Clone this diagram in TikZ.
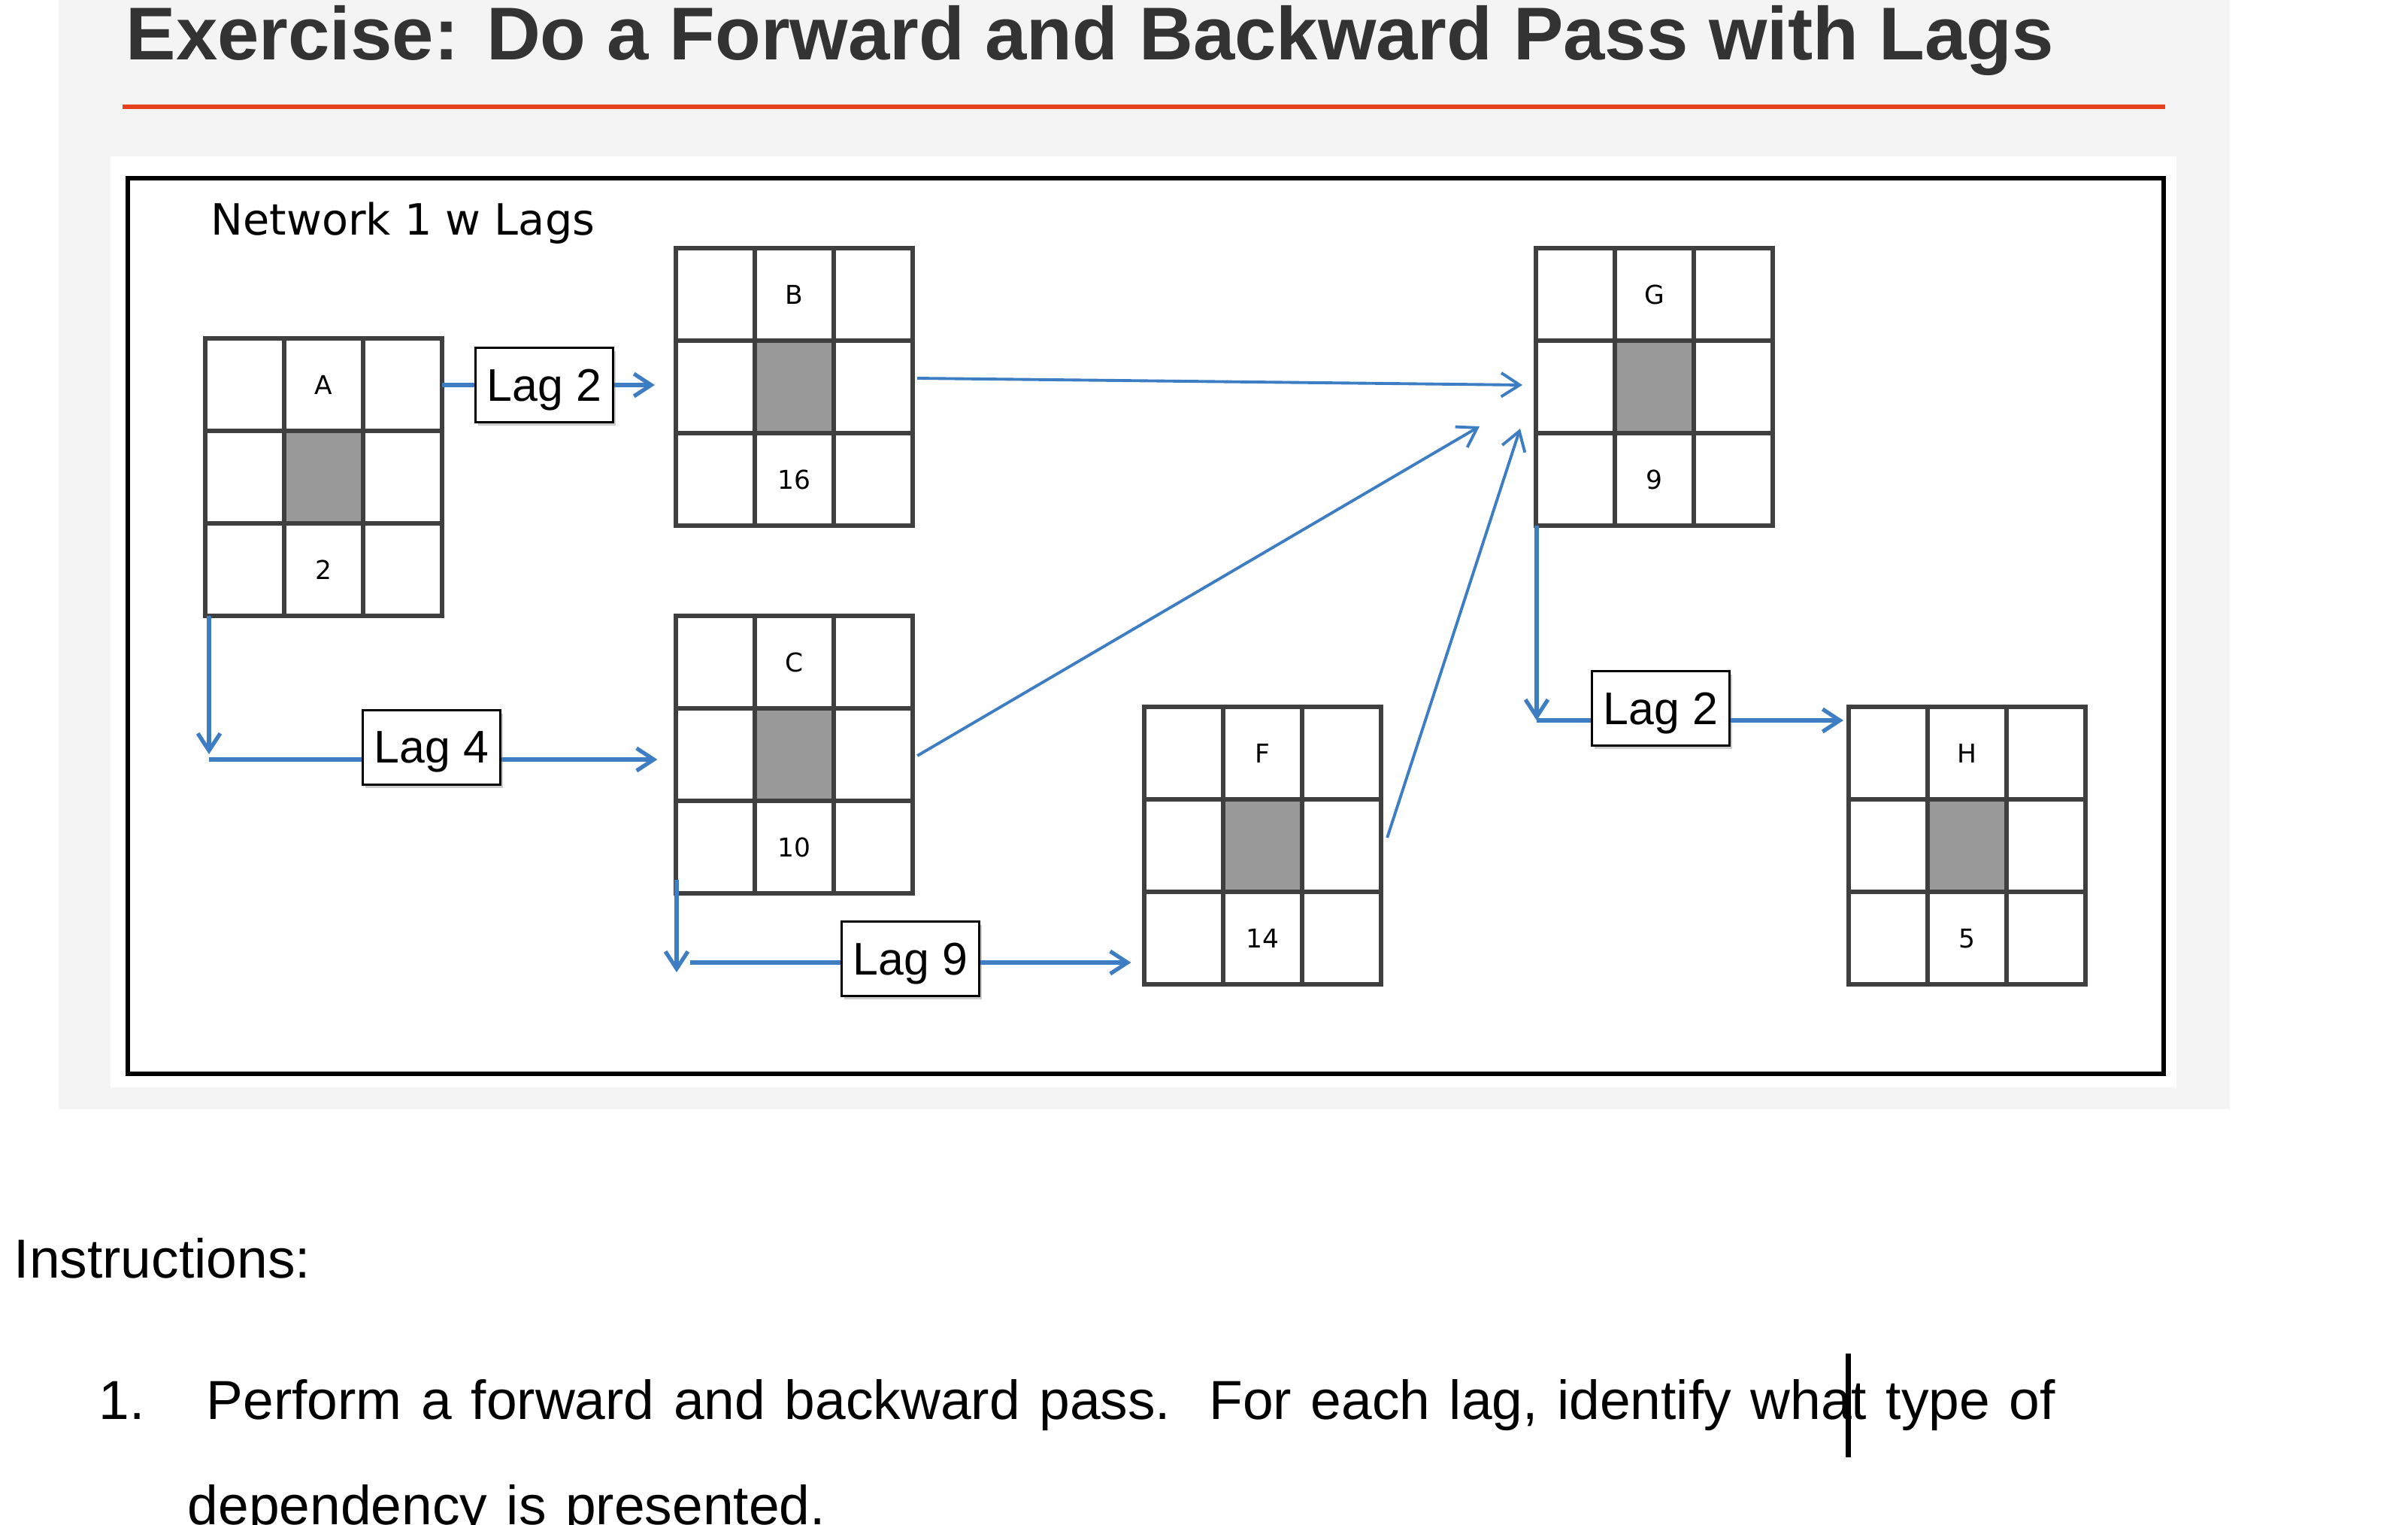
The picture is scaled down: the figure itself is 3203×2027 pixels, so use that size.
\documentclass[tikz,border=0pt]{standalone}
\usepackage{fontspec}
\setmainfont{Liberation Sans}
\newfontfamily\cellfont{DejaVu Sans}
\usepackage{tikz}
\usetikzlibrary{positioning}
\usetikzlibrary{calc}
\usetikzlibrary{arrows.meta}
\usetikzlibrary{shadows}

\definecolor{panelgray}{HTML}{F4F4F4}
\definecolor{rulered}{HTML}{E6411F}
\definecolor{titlegray}{HTML}{333333}
\definecolor{linkblue}{RGB}{61,125,196}
\definecolor{gridgray}{HTML}{3F3F3F}
\definecolor{midgray}{HTML}{999999}

\newcommand{\instrfont}{\fontsize{20.8}{24}\selectfont\spaceskip=0.35em\relax}

\tikzset{
  actgrid/.style={draw=gridgray,line width=1.7pt,rectangle,minimum width=3.15cm,minimum height=3.69cm,inner sep=0pt,outer sep=0pt,anchor=north west},
  gridline/.style={draw=gridgray,line width=1.7pt},
  celltext/.style={font=\cellfont\fontsize{9.8}{11}\selectfont},
  lagbox/.style={draw,line width=0.9pt,fill=white,rectangle,minimum width=1.83cm,minimum height=0.99cm,inner sep=0pt,text depth=0pt,font=\fontsize{17.3}{20}\selectfont,drop shadow={shadow xshift=0.9pt,shadow yshift=-1.3pt,opacity=0.4}},
  lagline/.style={linkblue,line width=1.5pt},
  lagarrow/.style={lagline,-{Straight Barb[length=6.5pt,width=8.5pt]}},
  linkarrow/.style={linkblue,line width=1.1pt,-{Straight Barb[length=7pt,width=9pt]}},
  instrtext/.style={anchor=base west,inner sep=0pt,font=\instrfont}
}

\newcommand{\activity}[4]{%
  \node[actgrid] (#1) at (#2) {};
  \fill[midgray] ($(#1.north west)+(105,123)$) rectangle ($(#1.north west)+(210,246)$);
  \foreach \k in {105,210} {\draw[gridline] ($(#1.north west)+(\k,0)$) -- ($(#1.south west)+(\k,0)$);}
  \foreach \k in {123,246} {\draw[gridline] ($(#1.north west)+(0,\k)$) -- ($(#1.north east)+(0,\k)$);}
  \node[celltext] (#1-name) at ($(#1.north)+(0,61.5)$) {#3};
  \node[celltext] (#1-dur) at ($(#1.south)+(0,-61.5)$) {#4};
}

\begin{document}
\begin{tikzpicture}[x=0.01cm,y=-0.01cm]
    \useasboundingbox (0,0) rectangle (3203,2027);
    \fill[white] (0,0) rectangle (3203,2027);
    \fill[panelgray] (78,0) rectangle (2966,1475);
    \fill[white] (147,208) rectangle (2895,1446);
    \node[anchor=base west,inner sep=0pt,text=titlegray,font=\bfseries\fontsize{28.3}{34}\selectfont] (title) at (167,80) {Exercise: Do a Forward and Backward Pass with Lags};
    \draw[rulered,line width=1.6pt] (163,142) -- (2880,142);
    \draw[line width=1.7pt] (170,237) rectangle (2878,1428);
    \node[anchor=base west,inner sep=0pt,font=\cellfont\fontsize{16.3}{19}\selectfont] (nettitle) at (280,312) {Network 1 w Lags};

    \activity{A}{273,450}{A}{2}
    \activity{B}{899,330}{B}{16}
    \activity{C}{899,819}{C}{10}
    \activity{F}{1522,940}{F}{14}
    \activity{G}{2043,330}{G}{9}
    \activity{H}{2459,940}{H}{5}

    \node[lagbox] (lagAB) at (724,512) {Lag 2};
    \node[lagbox] (lagAC) at (574,994) {Lag 4};
    \node[lagbox] (lagCF) at (1211,1275) {Lag 9};
    \node[lagbox] (lagGH) at (2209,942) {Lag 2};

    \draw[lagline] (lagAB.west -| A.east) -- (lagAB.west);
    \draw[lagarrow,shorten >=8pt] (lagAB.east) -- (lagAB.east -| B.west);

    \coordinate (bendA) at (278,1010);
    \draw[lagarrow,shorten >=2pt] (bendA |- A.south) -- (bendA);
    \draw[lagline] (bendA) -- (bendA -| lagAC.west);
    \draw[lagarrow,shorten >=7pt] (bendA -| lagAC.east) -- (bendA -| C.west);

    \coordinate (bendC) at (900,1293);
    \coordinate (startCF) at (918,1280);
    \draw[lagarrow] ($(C.south west)+(1,-18)$) -- (bendC);
    \draw[lagline] (startCF) -- (startCF -| lagCF.west);
    \draw[lagarrow,shorten >=5pt] (startCF -| lagCF.east) -- (startCF -| F.west);

    \coordinate (bendG) at (2044,958);
    \draw[lagarrow] (bendG |- G.south) -- (bendG);
    \draw[lagline] (bendG) -- (bendG -| lagGH.west);
    \draw[lagarrow,shorten >=2pt] (bendG -| lagGH.east) -- (bendG -| H.west);

    \draw[linkarrow] ($(B.north east)+(6,173)$) -- ($(G.north west)+(-18,182)$);
    \draw[linkarrow] ($(C.north east)+(6,186)$) -- ($(G.north west)+(-75,237)$);
    \draw[linkarrow] ($(F.north east)+(8,174)$) -- ($(G.north west)+(-21,240)$);

    \node[instrtext] (instr) at (18,1699) {Instructions:};
    \node[instrtext] (num1) at (131,1887) {1.};
    \node[instrtext] (step1) at (274,1887) {Perform a forward and backward pass.\ \ For each lag, identify what type of};
    \node[instrtext] (step1b) at (249,2027) {dependency is presented.};
    \fill (2455,1800) rectangle (2462,1938);
\end{tikzpicture}
\end{document}
